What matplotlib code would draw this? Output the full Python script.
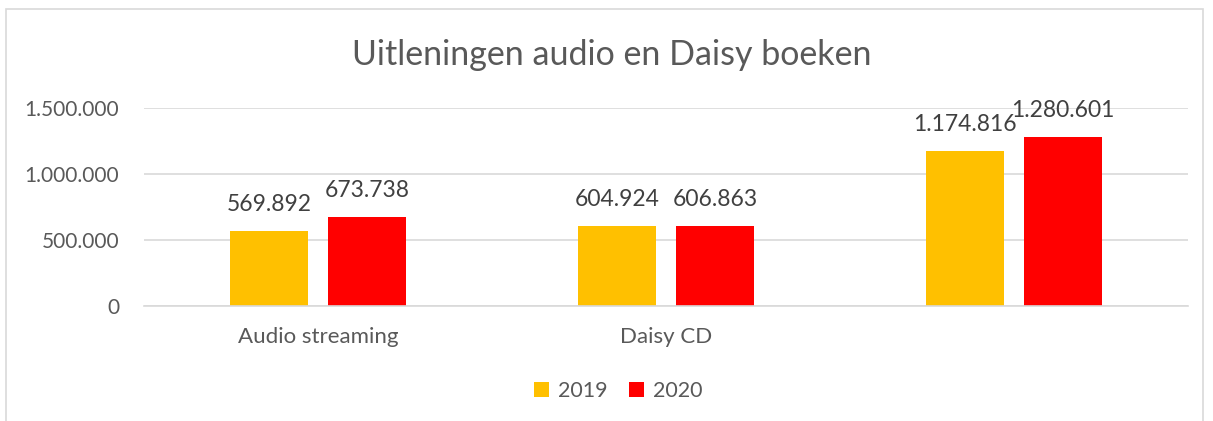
import numpy as np
import matplotlib.pyplot as plt
from matplotlib.patches import Rectangle

plt.rcParams['font.family'] = ['Lato', 'DejaVu Sans']

categories = ['Audio streaming', 'Daisy CD', '']
years = ['2019', '2020']
values_2019 = [569892, 604924, 1174816]
values_2020 = [673738, 606863, 1280601]
colors = ['#FFC000', '#FF0000']


def fmt(v):
    return '{:,}'.format(v).replace(',', '.')


fig = plt.figure(figsize=(12.13, 4.21), dpi=100)

# chart border
fig.patches.append(Rectangle((6 / 1213, -0.1), 1197 / 1213, 1.1 - 9 / 421,
                             transform=fig.transFigure, fill=False,
                             edgecolor='#d9d9d9', linewidth=1.2))

ax = fig.add_axes([144 / 1213, 1 - 306 / 421, 1044 / 1213, 198 / 421])

x = np.arange(len(categories))
width = 0.222
offset = 0.141

for i, (vals, col, yr) in enumerate(zip([values_2019, values_2020], colors, years)):
    pos = x + (offset if i else -offset)
    ax.bar(pos, vals, width, color=col, label=yr, zorder=2)
    for p, v in zip(pos, vals):
        ax.annotate(fmt(v), (p, v), xytext=(0, 19), textcoords='offset points',
                    ha='center', va='center', fontsize=16.5, color='#404040')

ax.set_xlim(-0.5, 2.5)
ax.set_ylim(0, 1500000)
ax.set_yticks([0, 500000, 1000000, 1500000])
ax.set_yticklabels([fmt(t) for t in [0, 500000, 1000000, 1500000]],
                   fontsize=15, color='#595959')
ax.set_xticks(x)
ax.set_xticklabels(categories, fontsize=16, color='#595959')
ax.tick_params(length=0)
ax.tick_params(axis='y', pad=18)
ax.tick_params(axis='x', pad=15)
ax.grid(axis='y', color='#d9d9d9', linewidth=1.2, zorder=0)
for s in ['top', 'right', 'left']:
    ax.spines[s].set_visible(False)
ax.spines['bottom'].set_color('#d9d9d9')
ax.spines['bottom'].set_linewidth(1.2)

fig.text(612 / 1213, 1 - 55 / 421, 'Uitleningen audio en Daisy boeken',
         ha='center', va='center', fontsize=24.5, color='#595959')

fig.legend(loc='center', bbox_to_anchor=(618 / 1213, 1 - 391 / 421), ncol=2,
           frameon=False, fontsize=15.5, labelcolor='#595959',
           handlelength=0.7, handleheight=0.7, handletextpad=0.4,
           columnspacing=1.0)

fig.savefig('out.png', dpi=100, facecolor='white')
